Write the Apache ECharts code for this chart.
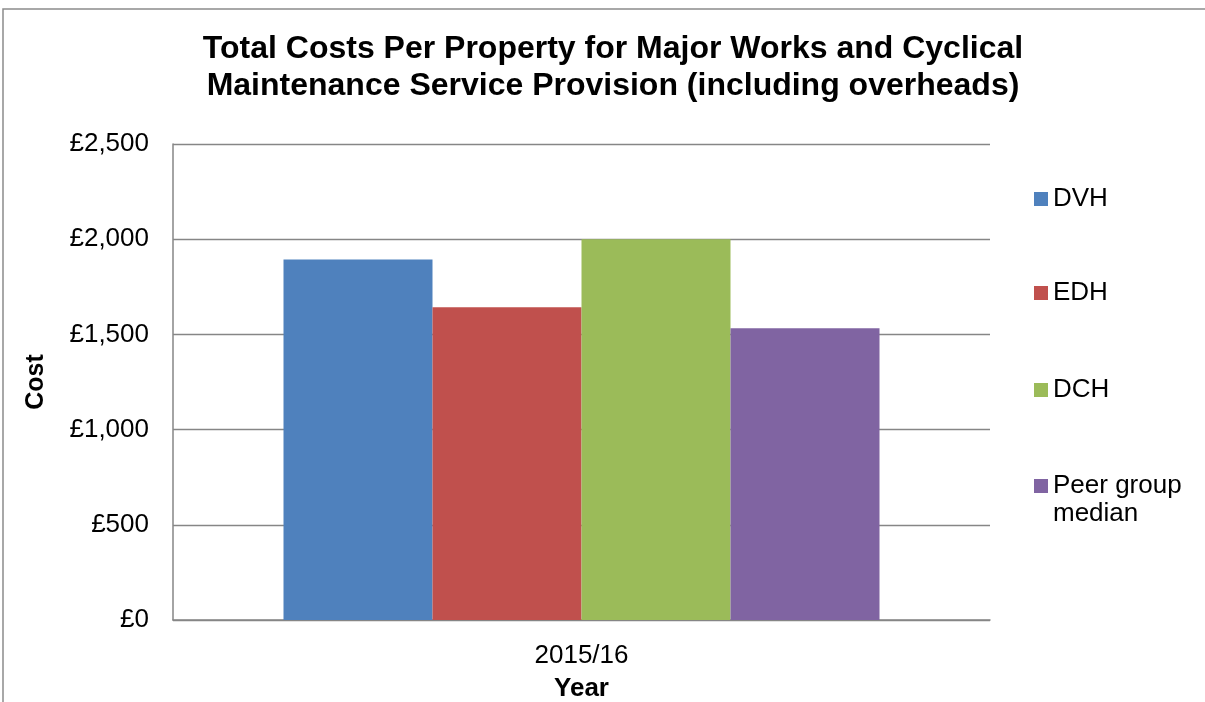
<!DOCTYPE html>
<html>
<head>
<meta charset="utf-8">
<script src="https://cdn.jsdelivr.net/npm/echarts@6/dist/echarts.min.js"></script>
<style>
  html, body { margin: 0; padding: 0; background: #fff; }
  #chart { width: 1205px; height: 702px; }
</style>
</head>
<body>
<div id="chart"></div>
<script>
// Chart data
const categories = ['2015/16'];
const seriesNames = ['DVH', 'EDH', 'DCH', 'Peer group median'];
const seriesValues = [
  [1893],   // DVH
  [1642],   // EDH
  [2000],   // DCH
  [1532]    // Peer group median
];
const seriesColors = ['#4F81BD', '#C0504D', '#9BBB59', '#8064A2'];
const yTicks = [0, 500, 1000, 1500, 2000, 2500];

const FONT = '"Liberation Sans", Arial, sans-serif';
const chart = echarts.init(document.getElementById('chart'), null, { renderer: 'canvas' });

const fmtMoney = v => '£' + v.toLocaleString('en-GB');

// One legend block per entry so each row sits at its own height.
// The long entry wraps; a leading blank line keeps its swatch level with the first line.
const legendTops = [185, 279, 376, 444];
const legends = seriesNames.map((name, i) => ({
  orient: 'vertical',
  left: 1034,
  top: legendTops[i],
  padding: 0,
  itemWidth: 14,
  itemHeight: 14,
  icon: 'rect',
  selectedMode: false,
  data: [name],
  formatter: n => n === 'Peer group median' ? '\nPeer group\nmedian' : n,
  textStyle: {
    fontFamily: FONT,
    fontSize: 26,
    lineHeight: 28,
    color: '#000'
  }
}));

const option = {
  animation: false,
  backgroundColor: '#fff',
  title: {
    text: 'Total Costs Per Property for Major Works and Cyclical\nMaintenance Service Provision (including overheads)',
    left: 608,
    textAlign: 'center',
    top: 26,
    textStyle: {
      fontFamily: FONT,
      fontSize: 32,
      fontWeight: 'bold',
      lineHeight: 37,
      color: '#000'
    }
  },
  legend: legends,
  grid: {
    left: 173,
    right: 215,
    top: 144,
    bottom: 82,
    containLabel: false,
    outerBoundsMode: 'none'
  },
  xAxis: {
    type: 'category',
    data: categories,
    name: 'Year',
    nameLocation: 'middle',
    nameGap: 56,
    nameTextStyle: { fontFamily: FONT, fontSize: 26, fontWeight: 'bold', color: '#000' },
    axisLine: { show: true, lineStyle: { color: '#868686', width: 1.5 } },
    axisTick: { show: false },
    axisLabel: { fontFamily: FONT, fontSize: 26, color: '#000', margin: 23 }
  },
  yAxis: {
    type: 'value',
    min: yTicks[0],
    max: yTicks[yTicks.length - 1],
    interval: yTicks[1] - yTicks[0],
    name: 'Cost',
    nameLocation: 'middle',
    nameRotate: 90,
    nameGap: 124,
    nameTextStyle: { fontFamily: FONT, fontSize: 25, fontWeight: 'bold', color: '#000' },
    axisLine: { show: true, lineStyle: { color: '#868686', width: 1.5 } },
    axisTick: { show: false },
    splitLine: { show: true, lineStyle: { color: '#868686', width: 1.3 } },
    axisLabel: { fontFamily: FONT, fontSize: 26, color: '#000', margin: 24, formatter: fmtMoney }
  },
  series: seriesNames.map((name, i) => ({
    name: name,
    type: 'bar',
    data: seriesValues[i],
    barWidth: 149,
    barGap: '0%',
    itemStyle: { color: seriesColors[i] }
  })),
  graphic: [{
    type: 'rect',
    silent: true,
    shape: { x: 3, y: 9, width: 1400, height: 1000 },
    style: { fill: 'none', stroke: '#8c8c8c', lineWidth: 1.5 },
    z: 100
  }]
};

chart.setOption(option);
</script>
</body>
</html>
